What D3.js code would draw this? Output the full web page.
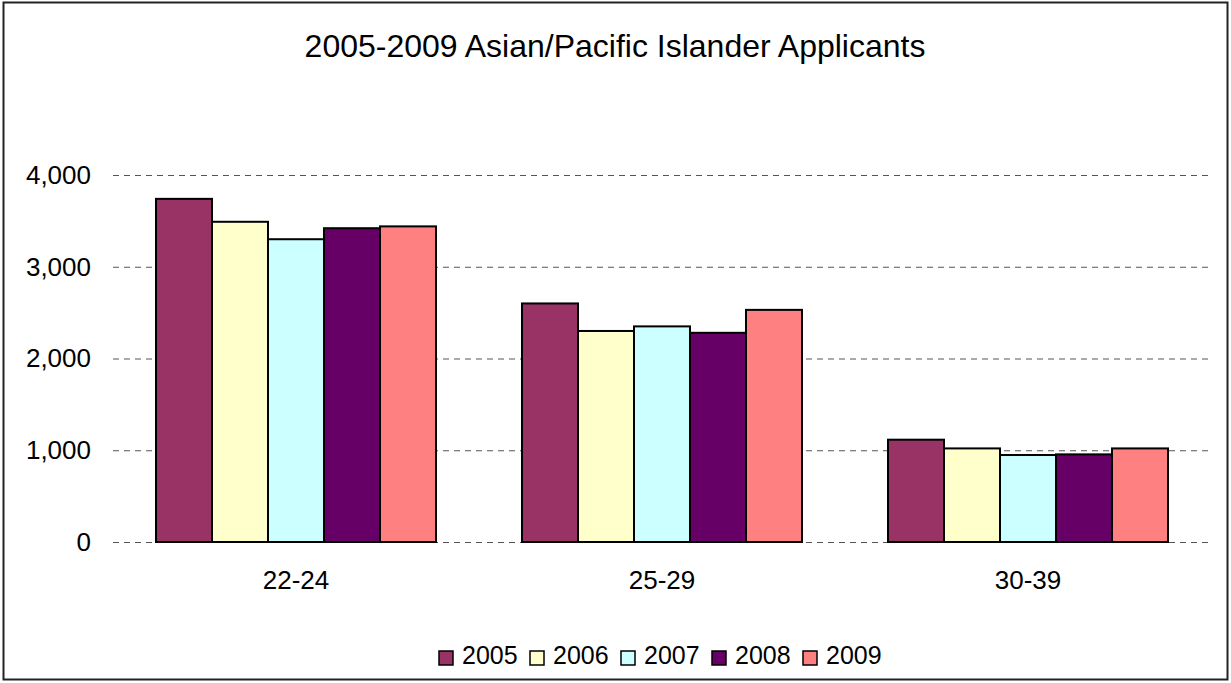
<!DOCTYPE html>
<html>
<head>
<meta charset="utf-8">
<script src="https://cdn.jsdelivr.net/npm/d3@7"></script>
<style>
  html, body { margin: 0; padding: 0; background: #fff; }
  svg { display: block; font-family: "Liberation Sans", Arial, sans-serif; }
</style>
</head>
<body>
<svg id="chart" width="1231" height="683"></svg>
<script>
// Applicants by age group, one series per year
const categories = ["22-24", "25-29", "30-39"];
const years = ["2005", "2006", "2007", "2008", "2009"];
const values2005 = [3740, 2600, 1115];
const values2006 = [3490, 2300, 1020];
const values2007 = [3300, 2350, 948];
const values2008 = [3420, 2280, 955];
const values2009 = [3440, 2530, 1020];
const yTicks = [0, 1000, 2000, 3000, 4000];
const colors = ["#993366", "#FFFFCC", "#CCFFFF", "#660066", "#FF8080"];
const titleText = "2005-2009 Asian/Pacific Islander Applicants";

const seriesValues = [values2005, values2006, values2007, values2008, values2009];
const rows = [];
categories.forEach((c, i) => {
  years.forEach((y, j) => rows.push({ category: c, year: y, value: seriesValues[j][i], color: colors[j] }));
});

const svg = d3.select("#chart");

// outer frame
svg.append("rect")
  .attr("x", 3.5).attr("y", 2.5)
  .attr("width", 1224).attr("height", 677)
  .attr("fill", "#fff")
  .attr("stroke", "#222")
  .attr("stroke-width", 2);

svg.append("text")
  .attr("x", 615).attr("y", 57)
  .attr("text-anchor", "middle")
  .attr("font-size", 32)
  .attr("fill", "#000")
  .text(titleText);

const plot = { left: 113, right: 1211, top: 175, bottom: 542 };

const x = d3.scaleBand()
  .domain(categories)
  .range([plot.left, plot.right])
  .paddingInner(0.235)
  .paddingOuter(0.1175);

const xInner = d3.scaleBand()
  .domain(years)
  .range([0, x.bandwidth()]);

const y = d3.scaleLinear()
  .domain([0, 4000])
  .range([plot.bottom, plot.top]);

// dashed gridlines with tick labels
const yAxis = d3.axisLeft(y)
  .tickValues(yTicks)
  .tickSize(-(plot.right - plot.left))
  .tickPadding(22)
  .tickFormat(d3.format(","));

const gy = svg.append("g")
  .attr("transform", `translate(${plot.left},0)`)
  .call(yAxis);
gy.select(".domain").remove();
gy.selectAll(".tick line")
  .attr("stroke", "#555")
  .attr("stroke-width", 1)
  .attr("stroke-dasharray", "6,5");
gy.selectAll(".tick text")
  .attr("font-size", 26)
  .attr("fill", "#000")
  .attr("font-family", "Liberation Sans, Arial, sans-serif");

// bars
svg.append("g")
  .selectAll("rect")
  .data(rows)
  .join("rect")
  .attr("x", d => x(d.category) + xInner(d.year))
  .attr("y", d => y(d.value))
  .attr("width", xInner.bandwidth())
  .attr("height", d => y(0) - y(d.value))
  .attr("fill", d => d.color)
  .attr("stroke", "#000")
  .attr("stroke-width", 2);

// category labels
const xAxis = d3.axisBottom(x).tickSize(0).tickPadding(29);
const gx = svg.append("g")
  .attr("transform", `translate(0,${plot.bottom})`)
  .call(xAxis);
gx.select(".domain").remove();
gx.selectAll(".tick text")
  .attr("font-size", 26)
  .attr("fill", "#000")
  .attr("font-family", "Liberation Sans, Arial, sans-serif");

// legend
const legend = svg.append("g").attr("transform", "translate(439,651)");
const item = legend.selectAll("g")
  .data(years)
  .join("g")
  .attr("transform", (d, i) => `translate(${i * 91},0)`);
item.append("rect")
  .attr("width", 14).attr("height", 14)
  .attr("fill", (d, i) => colors[i])
  .attr("stroke", "#000")
  .attr("stroke-width", 1.5);
item.append("text")
  .attr("x", 23).attr("y", 13)
  .attr("font-size", 25)
  .attr("fill", "#000")
  .text(d => d);
</script>
</body>
</html>
